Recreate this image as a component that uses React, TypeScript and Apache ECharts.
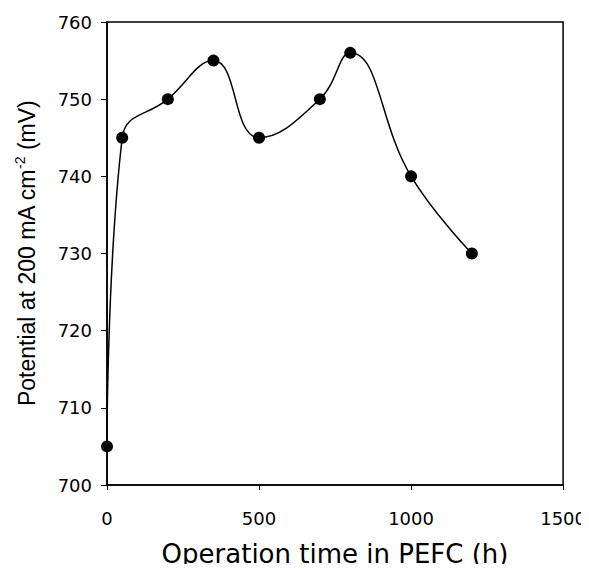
import React, { useEffect, useRef } from "react";
import * as echarts from "echarts";

// Operation time (h) and measured cell potential (mV)
const hours = [0, 50, 200, 350, 500, 700, 800, 1000, 1200];
const potential = [705, 745, 750, 755, 745, 750, 756, 740, 730];

const xTicks = [0, 500, 1000, 1500];
const yTicks = [700, 710, 720, 730, 740, 750, 760];

const SANS = "'Liberation Sans', Arial, Helvetica, sans-serif";
const WIDE = "'DejaVu Sans', Verdana, sans-serif";

export default function App() {
  const ref = useRef<HTMLDivElement>(null);

  useEffect(() => {
    if (!ref.current) return;
    const chart = echarts.init(ref.current, undefined, { renderer: "svg" });
    chart.setOption({
      animation: false,
      backgroundColor: "#fff",
      grid: {
        left: 107,
        right: 24,
        top: 22,
        bottom: 87,
        show: true,
        borderColor: "#000",
        borderWidth: 1.5,
      },
      xAxis: {
        type: "value",
        min: xTicks[0],
        max: xTicks[xTicks.length - 1],
        interval: 500,
        name: "Operation time in PEFC (h)",
        nameLocation: "middle",
        nameGap: 56,
        nameTextStyle: { fontFamily: WIDE, fontSize: 26, color: "#000" },
        axisLine: { show: true, lineStyle: { color: "#000", width: 1.5 } },
        axisTick: { show: true, inside: false, length: 5, lineStyle: { color: "#000", width: 1 } },
        axisLabel: {
          fontFamily: WIDE,
          fontSize: 18,
          color: "#000",
          margin: 24,
          formatter: (v: number) => String(v),
        },
        splitLine: { show: false },
      },
      yAxis: {
        type: "value",
        min: yTicks[0],
        max: yTicks[yTicks.length - 1],
        interval: 10,
        name: "{m|Potential at 200 mA cm}{s|-2}{m| (mV)}",
        nameLocation: "middle",
        nameGap: 66,
        nameTextStyle: {
          fontFamily: SANS,
          fontSize: 23,
          color: "#000",
          rich: {
            m: { fontFamily: SANS, fontSize: 23, color: "#000", lineHeight: 28 },
            s: {
              fontFamily: SANS,
              fontSize: 14,
              color: "#000",
              lineHeight: 28,
              verticalAlign: "top",
              padding: [0, 0, 12, 0],
            },
          },
        },
        axisLine: { show: true, lineStyle: { color: "#000", width: 1.5 } },
        axisTick: { show: true, inside: false, length: 6, lineStyle: { color: "#000", width: 1 } },
        axisLabel: {
          fontFamily: WIDE,
          fontSize: 18,
          color: "#000",
          margin: 15,
          formatter: (v: number) => String(v),
        },
        splitLine: { show: false },
      },
      series: [
        {
          type: "line",
          data: hours.map((h, i) => [h, potential[i]]),
          smooth: 0.45,
          symbol: "circle",
          symbolSize: 12,
          itemStyle: { color: "#000" },
          lineStyle: { color: "#000", width: 1.5 },
        },
      ],
    });
    return () => chart.dispose();
  }, []);

  return <div ref={ref} style={{ width: 589, height: 572, margin: -8 }} />;
}
